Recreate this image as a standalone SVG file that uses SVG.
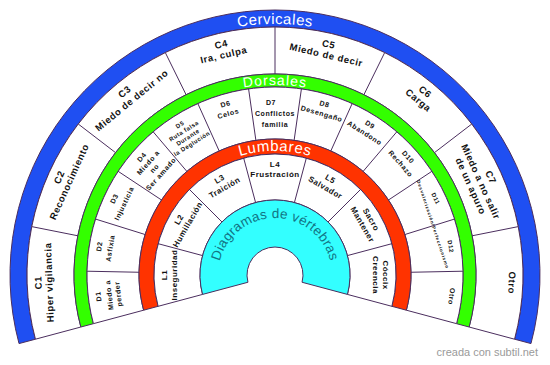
<svg xmlns="http://www.w3.org/2000/svg" width="550" height="365" viewBox="0 0 550 365">
<style>
.band{stroke:#4b2e5e;stroke-width:1}
.white{fill:#ffffff;stroke:#4b2e5e;stroke-width:1}
.div{stroke:#4b2e5e;stroke-width:1;fill:none}
.t{font-family:"Liberation Sans",Arial,sans-serif;font-weight:bold;fill:#111;text-anchor:middle}
.c{font-size:9.5px;letter-spacing:0.6px}
.d{font-size:7px;letter-spacing:0.6px}
.d5{font-size:6px;letter-spacing:0.5px}
.tiny{font-size:4.5px;letter-spacing:0.8px}
.l{font-size:8px;letter-spacing:0.5px}
.title{font-family:"Liberation Sans",Arial,sans-serif;fill:#ffffff;text-anchor:middle}
</style>
<defs>
<path id="arcC" d="M32.55,339.96 A251,251 0 1 1 517.45,339.96"/>
<path id="arcD" d="M91.47,324.18 A190,190 0 1 1 458.53,324.18"/>
<path id="arcL" d="M155.23,307.09 A124,124 0 1 1 394.77,307.09"/>
<path id="arcX" d="M219.94,289.75 A57,57 0 1 1 330.06,289.75"/>
</defs>
<rect width="550" height="365" fill="#ffffff"/>

<g id="rings">
<path class="band" fill="#1f4ff2" d="M19.03,343.59 A265,265 0 1 1 530.97,343.59 L514.55,339.19 A248,248 0 1 0 35.45,339.19 Z"/>
<path class="white" d="M35.45,339.19 A248,248 0 1 1 514.55,339.19 L469.15,327.02 A201,201 0 1 0 80.85,327.02 Z"/>
<path class="band" fill="#33ff00" d="M80.85,327.02 A201,201 0 1 1 469.15,327.02 L456.59,323.66 A188,188 0 1 0 93.41,323.66 Z"/>
<path class="white" d="M93.41,323.66 A188,188 0 1 1 456.59,323.66 L406.37,310.20 A136,136 0 1 0 143.63,310.20 Z"/>
<path class="band" fill="#ff3300" d="M143.63,310.20 A136,136 0 1 1 406.37,310.20 L391.88,306.32 A121,121 0 1 0 158.12,306.32 Z"/>
<path class="white" d="M158.12,306.32 A121,121 0 1 1 391.88,306.32 L347.44,294.41 A75,75 0 1 0 202.56,294.41 Z"/>
<path class="band" fill="#33ffff" d="M202.56,294.41 A75,75 0 1 1 347.44,294.41 L302.05,282.25 A28,28 0 1 0 247.95,282.25 Z"/>
</g>

<g id="connectors">
<path class="div" d="M77.86,235.79L31.77,226.62 M115.54,152.64L78.25,124.03 M186.10,94.73L165.31,52.58 M275,74L275,27 M363.90,94.73L384.69,52.58 M434.46,152.64L471.75,124.03 M472.14,235.79L518.23,226.62"/>
<path class="div" d="M139.03,272.26L87.04,271.21 M145.16,234.54L95.51,219.07 M161.54,200.01L118.16,171.34 M186.88,171.41L153.19,131.80 M219.18,150.98L197.84,103.56 M255.89,140.35L248.59,88.86 M294.11,140.35L301.41,88.86 M330.82,150.98L352.16,103.56 M363.12,171.41L396.81,131.80 M388.46,200.01L431.84,171.34 M404.84,234.54L454.49,219.07 M410.97,272.26L462.96,271.21"/>
<path class="div" d="M202.56,255.59L158.12,243.68 M221.97,221.97L189.44,189.44 M255.59,202.56L243.68,158.12 M294.41,202.56L306.32,158.12 M328.03,221.97L360.56,189.44 M347.44,255.59L391.88,243.68"/>
</g>

<g id="titles">
<text class="title" font-size="15" letter-spacing="0.5"><textPath href="#arcC" startOffset="50%">Cervicales</textPath></text>
<text class="title" font-size="14" letter-spacing="1"><textPath href="#arcD" startOffset="50%">Dorsales</textPath></text>
<text class="title" font-size="15" letter-spacing="0.6"><textPath href="#arcL" startOffset="50%">Lumbares</textPath></text>
<text class="title" font-size="13.5" letter-spacing="0.3" style="fill:#127585"><textPath href="#arcX" startOffset="50%">Diagramas de vértebras</textPath></text>
</g>

<g id="C1" transform="translate(38.13,282.75) rotate(-91.875)"><text class="t c"><tspan x="0" y="3.3">C1</tspan><tspan x="0" y="14.3">Hiper vigilancia</tspan></text></g>
<g id="C2" transform="translate(59.13,177.19) rotate(-65.625)"><text class="t c"><tspan x="0" y="3.3">C2</tspan><tspan x="0" y="14.3">Reconocimiento</tspan></text></g>
<g id="C3" transform="translate(124.65,91.80) rotate(-39.375)"><text class="t c"><tspan x="0" y="3.3">C3</tspan><tspan x="0" y="14.3">Miedo de decir no</tspan></text></g>
<g id="C4" transform="translate(221.18,44.19) rotate(-13.125)"><text class="t c"><tspan x="0" y="3.3">C4</tspan><tspan x="0" y="14.3">Ira, culpa</tspan></text></g>
<g id="C5" transform="translate(328.82,44.19) rotate(13.125)"><text class="t c"><tspan x="0" y="3.3">C5</tspan><tspan x="0" y="14.3">Miedo de decir</tspan></text></g>
<g id="C6" transform="translate(425.35,91.80) rotate(39.375)"><text class="t c"><tspan x="0" y="3.3">C6</tspan><tspan x="0" y="14.3">Carga</tspan></text></g>
<g id="C7" transform="translate(490.87,177.19) rotate(65.625)"><text class="t c"><tspan x="0" y="3.3">C7</tspan><tspan x="0" y="14.3">Miedo a no salir</tspan><tspan x="0" y="25.3">de un apuro</tspan></text></g>
<g id="C-Otro" transform="translate(511.87,282.75) rotate(91.875)"><text class="t c"><tspan x="0" y="3.3">Otro</tspan></text></g>

<g id="D1" transform="translate(98.30,296.46) rotate(-96.923)"><text class="t d"><tspan x="0" y="2.5">D1</tspan><tspan x="0" y="13.5">Miedo a</tspan><tspan x="0" y="22.5">perder</tspan></text></g>
<g id="D2" transform="translate(99.31,246.45) rotate(-80.769)"><text class="t d"><tspan x="0" y="2.5">D2</tspan><tspan x="0" y="13.5">Asfixia</tspan></text></g>
<g id="D3" transform="translate(114.19,198.69) rotate(-64.615)"><text class="t d"><tspan x="0" y="2.5">D3</tspan><tspan x="0" y="13.5">Injusticia</tspan></text></g>
<g id="D4" transform="translate(141.76,156.97) rotate(-48.462)"><text class="t d"><tspan x="0" y="2.5">D4</tspan><tspan x="0" y="11">Miedo a</tspan><tspan x="0" y="19.5">no</tspan><tspan x="0" y="28">Ser amado</tspan></text></g>
<g id="D5" transform="translate(179.86,124.56) rotate(-32.308)"><text class="t d5"><tspan x="0" y="2.1">D5</tspan><tspan x="0" y="9.6">Ruta falsa</tspan><tspan x="0" y="17.1">Durante</tspan><tspan x="0" y="24.6">la Deglución</tspan></text></g>
<g id="D6" transform="translate(225.48,104.03) rotate(-16.154)"><text class="t d"><tspan x="0" y="2.5">D6</tspan><tspan x="0" y="12.5">Celos</tspan></text></g>
<g id="D7" transform="translate(275,102)"><text class="t d"><tspan x="-4" y="2.5">D7</tspan><tspan x="0" y="13.5">Conflictos</tspan><tspan x="0" y="24.5">familia</tspan></text></g>
<g id="D8" transform="translate(324.52,104.03) rotate(16.154)"><text class="t d"><tspan x="0" y="2.5">D8</tspan><tspan x="0" y="12.5">Desengaño</tspan></text></g>
<g id="D9" transform="translate(370.14,124.56) rotate(32.308)"><text class="t d"><tspan x="0" y="2.5">D9</tspan><tspan x="0" y="12.5">Abandono</tspan></text></g>
<g id="D10" transform="translate(408.24,156.97) rotate(48.462)"><text class="t d"><tspan x="0" y="2.5">D10</tspan><tspan x="0" y="12.5">Rechazo</tspan></text></g>
<g id="D11" transform="translate(435.81,198.69) rotate(64.615)"><text class="t d5"><tspan x="0" y="2.1">D11</tspan></text></g>
<g id="D11-text" transform="translate(433,224.5) rotate(71.6)"><text class="t tiny"><tspan x="0" y="1.6">Desvalorización/Perfeccionismo</tspan></text></g>
<g id="D12" transform="translate(450.69,246.45) rotate(80.769)"><text class="t d5"><tspan x="0" y="2.1">D12</tspan></text></g>
<g id="D-Otro" transform="translate(451.70,296.46) rotate(96.923)"><text class="t d"><tspan x="0" y="2.5">Otro</tspan></text></g>

<g id="L1" transform="translate(164,275) rotate(-90)"><text class="t l"><tspan x="0" y="2.8">L1</tspan><tspan x="0" y="12.8">Inseguridad</tspan></text></g>
<g id="L2" transform="translate(178.87,219.5) rotate(-60)"><text class="t l"><tspan x="0" y="2.8">L2</tspan><tspan x="0" y="12.8">Humillación</tspan></text></g>
<g id="L3" transform="translate(219.5,178.87) rotate(-30)"><text class="t l"><tspan x="0" y="2.8">L3</tspan><tspan x="0" y="12.8">Traición</tspan></text></g>
<g id="L4" transform="translate(275,164)"><text class="t l"><tspan x="0" y="2.8">L4</tspan><tspan x="0" y="12.8">Frustración</tspan></text></g>
<g id="L5" transform="translate(330.5,178.87) rotate(30)"><text class="t l"><tspan x="0" y="2.8">L5</tspan><tspan x="0" y="12.8">Salvador</tspan></text></g>
<g id="Sacro" transform="translate(371.13,219.5) rotate(60)"><text class="t l"><tspan x="0" y="2.8">Sacro</tspan><tspan x="0" y="12.8">Mantener</tspan></text></g>
<g id="Coccix" transform="translate(386,275) rotate(90)"><text class="t l"><tspan x="0" y="2.8">Cóccix</tspan><tspan x="0" y="12.8">Creencia</tspan></text></g>

<text x="538" y="356" font-family="'Liberation Sans',Arial,sans-serif" font-size="11" fill="#9a9a9a" text-anchor="end">creada con subtil.net</text>
</svg>
